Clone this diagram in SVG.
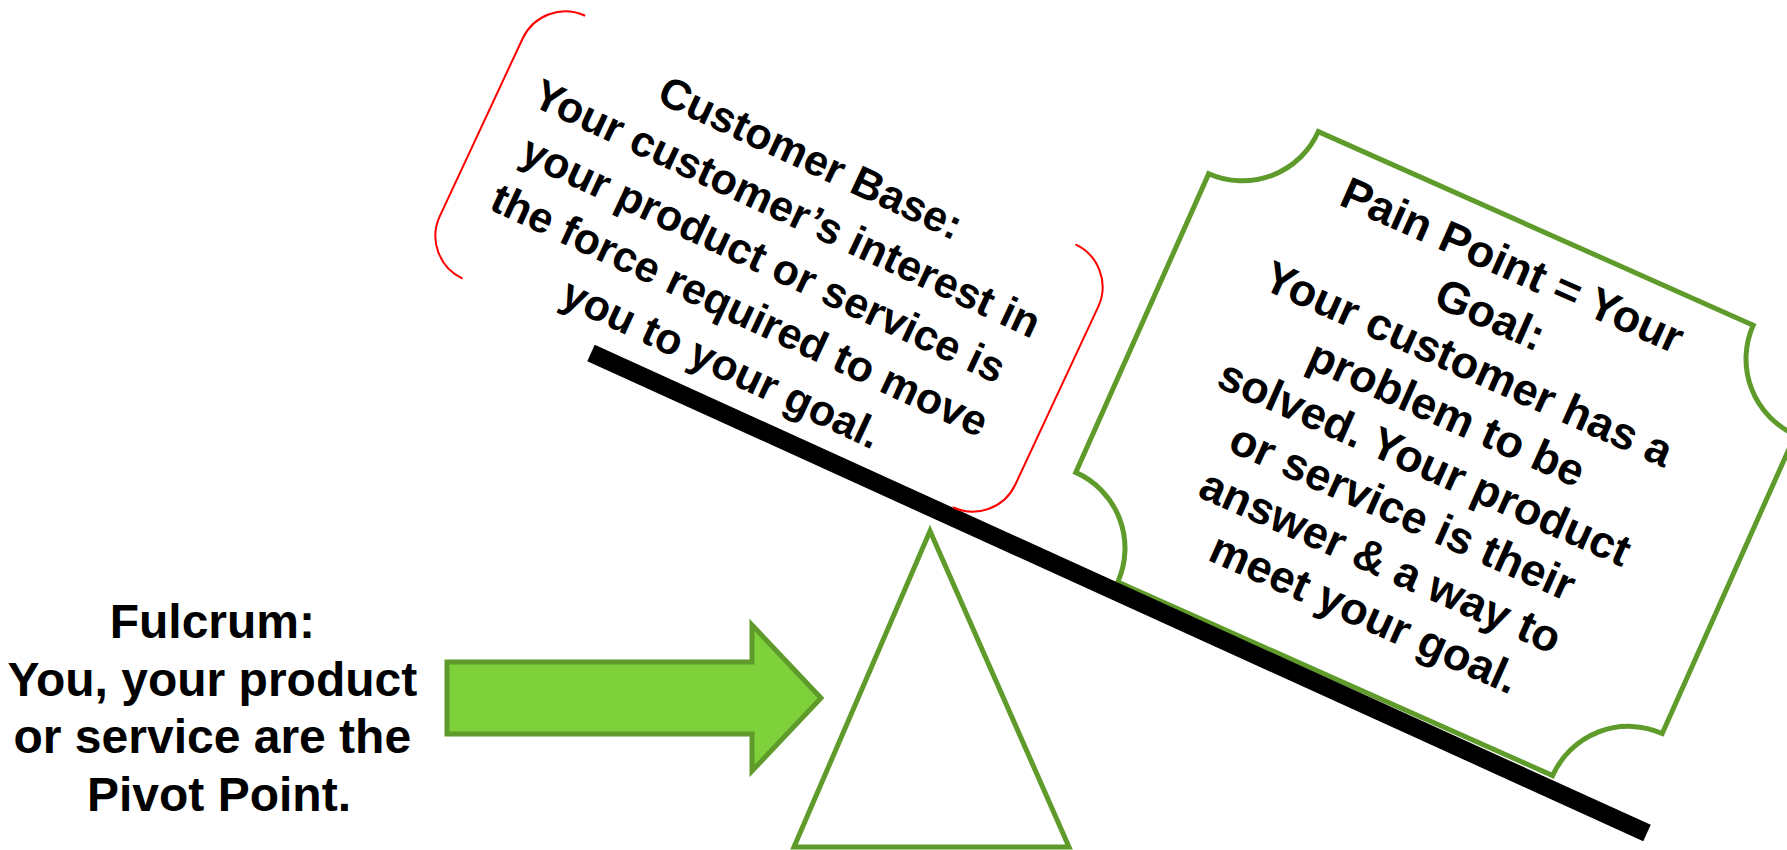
<svg xmlns="http://www.w3.org/2000/svg" width="1787" height="850" viewBox="0 0 1787 850">
  <style>
    .label { font-family: "Liberation Sans", Arial, sans-serif; font-weight: bold; fill: #000; text-anchor: middle; }
    .green-line { fill: #fff; stroke: #5F9B2B; stroke-width: 5; stroke-linejoin: miter; }
    .bracket { fill: none; stroke: #FF0000; stroke-width: 2; }
  </style>

  <rect width="1787" height="850" fill="#fff"/>

  <!-- Pain point plaque (drawn first, the lever covers its lower edge) -->
  <g id="pain-point">
    <g transform="translate(1435.5,453.6) rotate(24)">
      <path class="green-line" d="M -321,-163.5 A 83 83 0 0 0 -238,-246.5 H 238 A 83 83 0 0 0 321,-163.5 V 163.5 A 83 83 0 0 0 238,246.5 H -238 A 83 83 0 0 0 -321,163.5 Z"/>
      <text class="label" font-size="45">
        <tspan x="0" y="-188">Pain Point = Your</tspan>
        <tspan x="0" y="-134">Goal:</tspan>
        <tspan x="0" y="-80">Your customer has a</tspan>
        <tspan x="0" y="-26">problem to be</tspan>
        <tspan x="0" y="28">solved. Your product</tspan>
        <tspan x="0" y="82">or service is their</tspan>
        <tspan x="0" y="136">answer &amp; a way to</tspan>
        <tspan x="0" y="190">meet your goal.</tspan>
      </text>
    </g>
  </g>

  <!-- Lever beam -->
  <g id="beam">
    <line x1="591" y1="353" x2="1647" y2="833" stroke="#000" stroke-width="18" stroke-linecap="butt"/>
  </g>

  <!-- Fulcrum triangle -->
  <g id="fulcrum">
    <polygon class="green-line" points="930,531 1069,847 794,847"/>
  </g>

  <!-- Customer base double bracket -->
  <g id="customer-base">
    <g transform="translate(769,261.5) rotate(25)">
      <path class="bracket" d="M -270.5,-145 A 47 47 0 0 0 -317.5,-98 V 98 A 47 47 0 0 0 -270.5,145"/>
      <path class="bracket" d="M 270.5,-145 A 47 47 0 0 1 317.5,-98 V 98 A 47 47 0 0 1 270.5,145"/>
      <text class="label" font-size="43">
        <tspan x="0" y="-97">Customer Base:</tspan>
        <tspan x="0" y="-41">Your customer’s interest in</tspan>
        <tspan x="0" y="15">your product or service is</tspan>
        <tspan x="0" y="71">the force required to move</tspan>
        <tspan x="0" y="127">you to your goal.</tspan>
      </text>
    </g>
  </g>

  <!-- Fulcrum caption -->
  <g id="fulcrum-label">
    <text class="label" font-size="48">
      <tspan x="219" y="638">Fulcrum:</tspan>
      <tspan x="219" y="696">You, your product</tspan>
      <tspan x="219" y="753">or service are the</tspan>
      <tspan x="219" y="811">Pivot Point.</tspan>
    </text>
  </g>

  <!-- Block arrow pointing at the fulcrum -->
  <g id="connectors">
    <path d="M 447,662 H 752 V 625 L 821,698 L 752,771 V 734 H 447 Z" fill="#7ED13B" stroke="#5F9B2B" stroke-width="5" stroke-linejoin="miter"/>
  </g>
</svg>
